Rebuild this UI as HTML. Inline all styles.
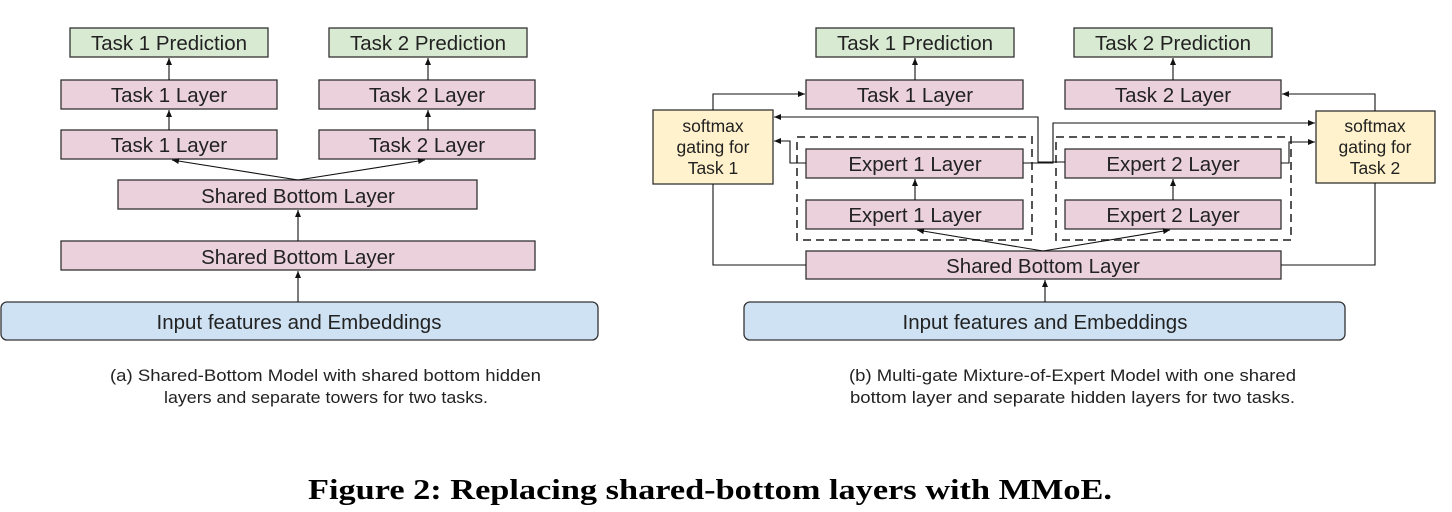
<!DOCTYPE html>
<html><head><meta charset="utf-8"><style>
body{margin:0;background:#fff;}
svg{display:block;}
text{font-family:"Liberation Sans",Arial,sans-serif;fill:#222;}
</style></head><body>
<svg width="1452" height="512" viewBox="0 0 1452 512" xmlns="http://www.w3.org/2000/svg">
<defs>
<marker id="a" markerWidth="8" markerHeight="8" refX="7" refY="4" orient="auto" markerUnits="userSpaceOnUse">
<path d="M0,1 L7,4 L0,7 z" fill="#111"/></marker>
</defs>
<g stroke="#333" stroke-width="1.3">
<rect x="70" y="28" width="198" height="29" fill="#d9ead3"/>
<rect x="329" y="28" width="198" height="29" fill="#d9ead3"/>
<rect x="61" y="80" width="216" height="29" fill="#ead1dc"/>
<rect x="319" y="80" width="216" height="29" fill="#ead1dc"/>
<rect x="61" y="130" width="216" height="29" fill="#ead1dc"/>
<rect x="319" y="130" width="216" height="29" fill="#ead1dc"/>
<rect x="118" y="180" width="359" height="29" fill="#ead1dc"/>
<rect x="61" y="241" width="474" height="29" fill="#ead1dc"/>
<rect x="1" y="302" width="597" height="38" rx="6" fill="#cfe2f3"/>
<rect x="816" y="28" width="198" height="29" fill="#d9ead3"/>
<rect x="1074" y="28" width="198" height="29" fill="#d9ead3"/>
<rect x="806" y="80" width="217" height="29" fill="#ead1dc"/>
<rect x="1065" y="80" width="216" height="29" fill="#ead1dc"/>
<rect x="653" y="110" width="120" height="74" fill="#fff2cc"/>
<rect x="1316" y="111" width="119" height="72" fill="#fff2cc"/>
<rect x="797" y="137" width="235" height="103" fill="none" stroke="#555" stroke-width="2" stroke-dasharray="8,5"/>
<rect x="1056" y="137" width="235" height="103" fill="none" stroke="#555" stroke-width="2" stroke-dasharray="8,5"/>
<rect x="806" y="149" width="217" height="29" fill="#ead1dc"/>
<rect x="806" y="200" width="217" height="29" fill="#ead1dc"/>
<rect x="1065" y="149" width="216" height="29" fill="#ead1dc"/>
<rect x="1065" y="200" width="216" height="29" fill="#ead1dc"/>
<rect x="806" y="251" width="475" height="28" fill="#ead1dc"/>
<rect x="744" y="302" width="601" height="38" rx="6" fill="#cfe2f3"/>
</g>
<g stroke="#111" stroke-width="1.1" fill="none">
<line x1="169" y1="80" x2="169" y2="58" marker-end="url(#a)"/>
<line x1="428" y1="80" x2="428" y2="58" marker-end="url(#a)"/>
<line x1="169" y1="130" x2="169" y2="110" marker-end="url(#a)"/>
<line x1="428" y1="130" x2="428" y2="110" marker-end="url(#a)"/>
<line x1="298" y1="180" x2="172" y2="160" marker-end="url(#a)"/>
<line x1="298" y1="180" x2="425" y2="160" marker-end="url(#a)"/>
<line x1="298" y1="241" x2="298" y2="210" marker-end="url(#a)"/>
<line x1="298" y1="302" x2="298" y2="271" marker-end="url(#a)"/>
<line x1="915" y1="80" x2="915" y2="58" marker-end="url(#a)"/>
<line x1="1173" y1="80" x2="1173" y2="58" marker-end="url(#a)"/>
<line x1="915" y1="200" x2="915" y2="179" marker-end="url(#a)"/>
<line x1="1173" y1="200" x2="1173" y2="179" marker-end="url(#a)"/>
<line x1="1043" y1="251" x2="917" y2="230" marker-end="url(#a)"/>
<line x1="1043" y1="251" x2="1170" y2="230" marker-end="url(#a)"/>
<line x1="1045" y1="302" x2="1045" y2="280" marker-end="url(#a)"/>
<polyline points="713,110 713,94 805,94" marker-end="url(#a)"/>
<polyline points="1375,111 1375,94 1282,94" marker-end="url(#a)"/>
<polyline points="806,163 790,163 790,141 774,141" marker-end="url(#a)"/>
<polyline points="1281,163 1289,163 1289,142 1315,142" marker-end="url(#a)"/>
<polyline points="1065,162 1038,162 1038,117 774,117" marker-end="url(#a)"/>
<polyline points="1023,163 1053,163 1053,123 1315,123" marker-end="url(#a)"/>
<polyline points="713,184 713,265 806,265"/>
<polyline points="1375,183 1375,265 1281,265"/>
</g>
<g font-size="20.5" text-anchor="middle">
<text x="169" y="50">Task 1 Prediction</text>
<text x="428" y="50">Task 2 Prediction</text>
<text x="169" y="102">Task 1 Layer</text>
<text x="427" y="102">Task 2 Layer</text>
<text x="169" y="152">Task 1 Layer</text>
<text x="427" y="152">Task 2 Layer</text>
<text x="298" y="203">Shared Bottom Layer</text>
<text x="298" y="264">Shared Bottom Layer</text>
<text x="299" y="329">Input features and Embeddings</text>
<text x="915" y="50">Task 1 Prediction</text>
<text x="1173" y="50">Task 2 Prediction</text>
<text x="915" y="102">Task 1 Layer</text>
<text x="1173" y="102">Task 2 Layer</text>
<text x="915" y="171">Expert 1 Layer</text>
<text x="1173" y="171">Expert 2 Layer</text>
<text x="915" y="222">Expert 1 Layer</text>
<text x="1173" y="222">Expert 2 Layer</text>
<text x="1043" y="273">Shared Bottom Layer</text>
<text x="1045" y="329">Input features and Embeddings</text>
</g>
<g font-size="17.5" text-anchor="middle">
<text x="713" y="132">softmax</text>
<text x="713" y="153">gating for</text>
<text x="713" y="174">Task 1</text>
<text x="1375" y="132">softmax</text>
<text x="1375" y="153">gating for</text>
<text x="1375" y="174">Task 2</text>
</g>
<g font-size="17" style="fill:#333">
<text x="110" y="381" textLength="431" lengthAdjust="spacingAndGlyphs">(a) Shared-Bottom Model with shared bottom hidden</text>
<text x="164" y="403" textLength="324" lengthAdjust="spacingAndGlyphs">layers and separate towers for two tasks.</text>
<text x="849" y="381" textLength="447" lengthAdjust="spacingAndGlyphs">(b) Multi-gate Mixture-of-Expert Model with one shared</text>
<text x="850" y="403" textLength="445" lengthAdjust="spacingAndGlyphs">bottom layer and separate hidden layers for two tasks.</text>
</g>
<text x="308" y="499" font-size="29" font-weight="bold" textLength="804" lengthAdjust="spacingAndGlyphs" style="font-family:'Liberation Serif',serif;fill:#000">Figure 2: Replacing shared-bottom layers with MMoE.</text>
</svg>
</body></html>
